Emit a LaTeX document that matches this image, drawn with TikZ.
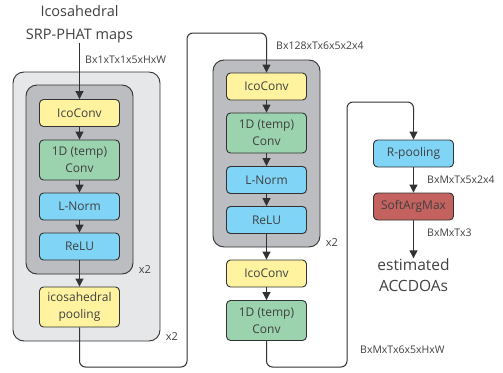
\documentclass[tikz,border=0pt]{standalone}
\usepackage{fontspec}
\setmainfont{Open Sans}
\usetikzlibrary{arrows.meta}
\definecolor{txtgray}{RGB}{64,64,64}
\definecolor{linegray}{RGB}{50,50,50}
\definecolor{outergray}{RGB}{230,231,233}
\definecolor{innergray}{RGB}{188,189,192}
\definecolor{boxyellow}{RGB}{255,243,160}
\definecolor{boxgreen}{RGB}{155,211,174}
\definecolor{boxblue}{RGB}{128,212,246}
\definecolor{boxred}{RGB}{196,98,96}
\tikzset{
  block/.style={
    draw=linegray,
    line width=0.9pt,
    rounded corners=4pt,
    minimum width=80pt,
    minimum height=27pt,
    inner sep=1pt,
    align=center,
    text=txtgray,
    font=\fontsize{12}{17}\selectfont
  },
  block-tall/.style={block, minimum height=40pt},
  ico/.style={block, fill=boxyellow},
  temp/.style={block-tall, fill=boxgreen},
  norm/.style={block, fill=boxblue},
  soft/.style={block, fill=boxred},
  outer/.style={draw=linegray, line width=0.9pt, fill=outergray, rounded corners=11pt},
  inner/.style={draw=linegray, line width=0.9pt, fill=innergray, rounded corners=11pt},
  conn/.style={draw=linegray, line width=1pt, -{Triangle[length=8pt,width=8pt]}},
  wire/.style={draw=linegray, line width=1pt, rounded corners=6pt},
  dims/.style={anchor=west, text=txtgray, font=\fontsize{10.5}{12}\selectfont, inner sep=0pt},
  reps/.style={text=txtgray, font=\fontsize{11}{13}\selectfont, inner sep=0pt},
  caption/.style={align=center, text=txtgray, inner sep=0pt}
}

\begin{document}
\begin{tikzpicture}[x=1pt, y=-1pt]
  \useasboundingbox (0,0) rectangle (503,372);

  % containers
  \node[outer, minimum width=147pt, minimum height=269pt] (outer1) at (86.5,206.5) {};
  \node[inner, minimum width=107pt, minimum height=189pt] (inner1) at (79.5,179.5) {};
  \node[inner, minimum width=107pt, minimum height=187pt] (inner2) at (266.5,153.5) {};

  % first column
  \node[caption, font=\fontsize{14.5}{23}\selectfont] (maps) at (79.5,24) {Icosahedral\\SRP-PHAT maps};
  \node[ico] (ico1) at (79.5,113) {IcoConv};
  \node[temp] (temp1) at (79.5,160) {1D (temp)\\Conv};
  \node[norm] (norm1) at (79.5,206.5) {L-Norm};
  \node[norm] (relu1) at (79.5,246.5) {ReLU};
  \node[ico, minimum height=40pt] (pool1) at (79.5,307) {icosahedral\\pooling};
  \node[reps] (rep1) at (145,270) {x2};
  \node[reps] (rep2) at (172,337) {x2};
  \node[dims] (dim1) at (85,60) {Bx1xTx1x5xHxW};

  \draw[conn] (maps.south) -- (ico1.north);
  \draw[conn] (ico1) -- (temp1);
  \draw[conn] (temp1) -- (norm1);
  \draw[conn] (norm1) -- (relu1);
  \draw[conn] (relu1) -- (pool1);

  % second column
  \node[ico] (ico2) at (266.5,86.5) {IcoConv};
  \node[temp] (temp2) at (266.5,133) {1D (temp)\\Conv};
  \node[norm] (norm2) at (266.5,180) {L-Norm};
  \node[norm] (relu2) at (266.5,220) {ReLU};
  \node[ico] (ico3) at (266.5,273.5) {IcoConv};
  \node[temp] (temp3) at (266.5,320.5) {1D (temp)\\Conv};
  \node[reps] (rep3) at (332,243) {x2};
  \node[dims] (dim2) at (276,46) {Bx128xTx6x5x2x4};
  \node[dims] (dim3) at (360,350) {BxMxTx6x5xHxW};

  \coordinate (turn1) at (187,367);
  \coordinate (turn2) at (187,33);
  \draw[wire] (pool1.south) |- (turn1) -- (turn2) -| (266.5,60);
  \draw[conn] (266.5,59) -- (ico2.north);
  \draw[conn] (ico2) -- (temp2);
  \draw[conn] (temp2) -- (norm2);
  \draw[conn] (norm2) -- (relu2);
  \draw[conn] (relu2) -- (ico3);
  \draw[conn] (ico3) -- (temp3);

  % third column
  \node[norm] (rpool) at (413.5,153.5) {R-pooling};
  \node[soft] (argmax) at (413.5,206.5) {SoftArgMax};
  \node[caption, font=\fontsize{15.5}{21}\selectfont] (accdoa) at (413.5,275) {estimated\\ACCDOAs};
  \node[dims] (dim4) at (427,180) {BxMxTx5x2x4};
  \node[dims] (dim5) at (427,233) {BxMxTx3};

  \coordinate (turn3) at (347,367);
  \coordinate (turn4) at (347,102);
  \draw[wire] (temp3.south) |- (turn3) -- (turn4) -| (413.5,120);
  \draw[conn] (413.5,119) -- (rpool.north);
  \draw[conn] (rpool) -- (argmax);
  \draw[conn] (argmax.south) -- (accdoa.north);
\end{tikzpicture}
\end{document}
